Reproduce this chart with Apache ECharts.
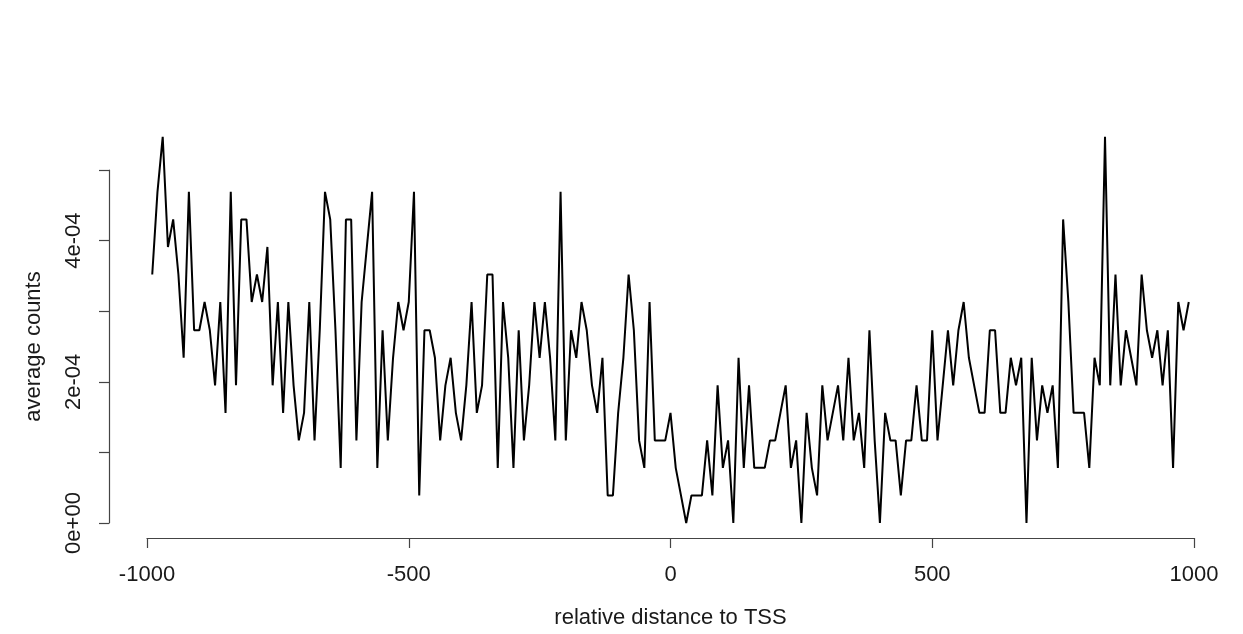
<!DOCTYPE html>
<html>
<head>
<meta charset="utf-8">
<script src="https://cdn.jsdelivr.net/npm/echarts@6/dist/echarts.min.js"></script>
<style>
    html, body { margin: 0; padding: 0; background: #fff; }
    #TssProfile { width: 1243px; height: 634px; }
</style>
</head>
<body>
<div id="TssProfile"></div>
<script>
// relative distance to TSS (bin positions)
const distance = [
    -990, -980, -970, -960, -950, -940, -930, -920, -910, -900,
    -890, -880, -870, -860, -850, -840, -830, -820, -810, -800,
    -790, -780, -770, -760, -750, -740, -730, -720, -710, -700,
    -690, -680, -670, -660, -650, -640, -630, -620, -610, -600,
    -590, -580, -570, -560, -550, -540, -530, -520, -510, -500,
    -490, -480, -470, -460, -450, -440, -430, -420, -410, -400,
    -390, -380, -370, -360, -350, -340, -330, -320, -310, -300,
    -290, -280, -270, -260, -250, -240, -230, -220, -210, -200,
    -190, -180, -170, -160, -150, -140, -130, -120, -110, -100,
    -90, -80, -70, -60, -50, -40, -30, -20, -10, 0,
    10, 20, 30, 40, 50, 60, 70, 80, 90, 100,
    110, 120, 130, 140, 150, 160, 170, 180, 190, 200,
    210, 220, 230, 240, 250, 260, 270, 280, 290, 300,
    310, 320, 330, 340, 350, 360, 370, 380, 390, 400,
    410, 420, 430, 440, 450, 460, 470, 480, 490, 500,
    510, 520, 530, 540, 550, 560, 570, 580, 590, 600,
    610, 620, 630, 640, 650, 660, 670, 680, 690, 700,
    710, 720, 730, 740, 750, 760, 770, 780, 790, 800,
    810, 820, 830, 840, 850, 860, 870, 880, 890, 900,
    910, 920, 930, 940, 950, 960, 970, 980, 990
];

// average counts per bin
const avgCounts = [
    3.52e-4, 4.69e-4, 5.47e-4, 3.91e-4, 4.30e-4, 3.52e-4, 2.34e-4, 4.69e-4, 2.73e-4, 2.73e-4,
    3.13e-4, 2.73e-4, 1.95e-4, 3.13e-4, 1.56e-4, 4.69e-4, 1.95e-4, 4.30e-4, 4.30e-4, 3.13e-4,
    3.52e-4, 3.13e-4, 3.91e-4, 1.95e-4, 3.13e-4, 1.56e-4, 3.13e-4, 1.95e-4, 1.17e-4, 1.56e-4,
    3.13e-4, 1.17e-4, 2.73e-4, 4.69e-4, 4.30e-4, 2.73e-4, 7.81e-5, 4.30e-4, 4.30e-4, 1.17e-4,
    3.13e-4, 3.91e-4, 4.69e-4, 7.81e-5, 2.73e-4, 1.17e-4, 2.34e-4, 3.13e-4, 2.73e-4, 3.13e-4,
    4.69e-4, 3.91e-5, 2.73e-4, 2.73e-4, 2.34e-4, 1.17e-4, 1.95e-4, 2.34e-4, 1.56e-4, 1.17e-4,
    1.95e-4, 3.13e-4, 1.56e-4, 1.95e-4, 3.52e-4, 3.52e-4, 7.81e-5, 3.13e-4, 2.34e-4, 7.81e-5,
    2.73e-4, 1.17e-4, 1.95e-4, 3.13e-4, 2.34e-4, 3.13e-4, 2.34e-4, 1.17e-4, 4.69e-4, 1.17e-4,
    2.73e-4, 2.34e-4, 3.13e-4, 2.73e-4, 1.95e-4, 1.56e-4, 2.34e-4, 3.91e-5, 3.91e-5, 1.56e-4,
    2.34e-4, 3.52e-4, 2.73e-4, 1.17e-4, 7.81e-5, 3.13e-4, 1.17e-4, 1.17e-4, 1.17e-4, 1.56e-4,
    7.81e-5, 3.91e-5, 0, 3.91e-5, 3.91e-5, 3.91e-5, 1.17e-4, 3.91e-5, 1.95e-4, 7.81e-5,
    1.17e-4, 0, 2.34e-4, 7.81e-5, 1.95e-4, 7.81e-5, 7.81e-5, 7.81e-5, 1.17e-4, 1.17e-4,
    1.56e-4, 1.95e-4, 7.81e-5, 1.17e-4, 0, 1.56e-4, 7.81e-5, 3.91e-5, 1.95e-4, 1.17e-4,
    1.56e-4, 1.95e-4, 1.17e-4, 2.34e-4, 1.17e-4, 1.56e-4, 7.81e-5, 2.73e-4, 1.17e-4, 0,
    1.56e-4, 1.17e-4, 1.17e-4, 3.91e-5, 1.17e-4, 1.17e-4, 1.95e-4, 1.17e-4, 1.17e-4, 2.73e-4,
    1.17e-4, 1.95e-4, 2.73e-4, 1.95e-4, 2.73e-4, 3.13e-4, 2.34e-4, 1.95e-4, 1.56e-4, 1.56e-4,
    2.73e-4, 2.73e-4, 1.56e-4, 1.56e-4, 2.34e-4, 1.95e-4, 2.34e-4, 0, 2.34e-4, 1.17e-4,
    1.95e-4, 1.56e-4, 1.95e-4, 7.81e-5, 4.30e-4, 3.13e-4, 1.56e-4, 1.56e-4, 1.56e-4, 7.81e-5,
    2.34e-4, 1.95e-4, 5.47e-4, 1.95e-4, 3.52e-4, 1.95e-4, 2.73e-4, 2.34e-4, 1.95e-4, 3.52e-4,
    2.73e-4, 2.34e-4, 2.73e-4, 1.95e-4, 2.73e-4, 7.81e-5, 3.13e-4, 2.73e-4, 3.13e-4
];

// y tick labels (R only prints every other one)
const yTickValues = [0, 2e-4, 4e-4];
const yTickLabels = ['0e+00', '2e-04', '4e-04'];

const font = '"Liberation Sans", Arial, Helvetica, sans-serif';
const axisColor = '#444';
const textColor = '#1a1a1a';

const myChart = echarts.init(document.getElementById('TssProfile'));

const option = {
    animation: false,
    backgroundColor: '#fff',
    grid: {
        left: 147,
        right: 49,
        top: 170,
        bottom: 109
    },
    xAxis: {
        type: 'value',
        min: -1000,
        max: 1000,
        interval: 500,
        offset: 15,
        name: 'relative distance to TSS',
        nameLocation: 'middle',
        nameGap: 69,
        nameTextStyle: {
            color: textColor,
            fontSize: 22,
            fontFamily: font
        },
        axisLine: {
            show: true,
            onZero: false,
            lineStyle: { color: axisColor, width: 1.2 }
        },
        axisTick: {
            show: true,
            inside: false,
            length: 10,
            lineStyle: { color: axisColor, width: 1.2 }
        },
        axisLabel: {
            color: textColor,
            fontSize: 22,
            fontFamily: font,
            margin: 26,
            showMinLabel: true,
            showMaxLabel: true,
            formatter: function (v) {
                return String(v);
            }
        },
        splitLine: { show: false }
    },
    yAxis: {
        type: 'value',
        min: 0,
        max: 5e-4,
        interval: 1e-4,
        offset: 38,
        name: 'average counts',
        nameLocation: 'middle',
        nameRotate: 90,
        nameGap: 64,
        nameTextStyle: {
            color: textColor,
            fontSize: 22,
            fontFamily: font
        },
        axisLine: {
            show: true,
            onZero: false,
            lineStyle: { color: axisColor, width: 1.2 }
        },
        axisTick: {
            show: true,
            inside: false,
            length: 10,
            lineStyle: { color: axisColor, width: 1.2 }
        },
        axisLabel: {
            color: textColor,
            fontSize: 22,
            fontFamily: font,
            rotate: 90,
            margin: 24,
            showMaxLabel: true,
            formatter: function (v) {
                for (let j = 0; j < yTickValues.length; j++) {
                    if (Math.abs(v - yTickValues[j]) < 1e-9) return yTickLabels[j];
                }
                return '';
            }
        },
        splitLine: { show: false }
    },
    series: [
        {
            name: 'average counts',
            type: 'line',
            clip: false,
            symbol: 'none',
            lineStyle: { color: '#000', width: 2 },
            data: distance.map((d, i) => [d, avgCounts[i]])
        }
    ]
};

myChart.setOption(option);
</script>
</body>
</html>
